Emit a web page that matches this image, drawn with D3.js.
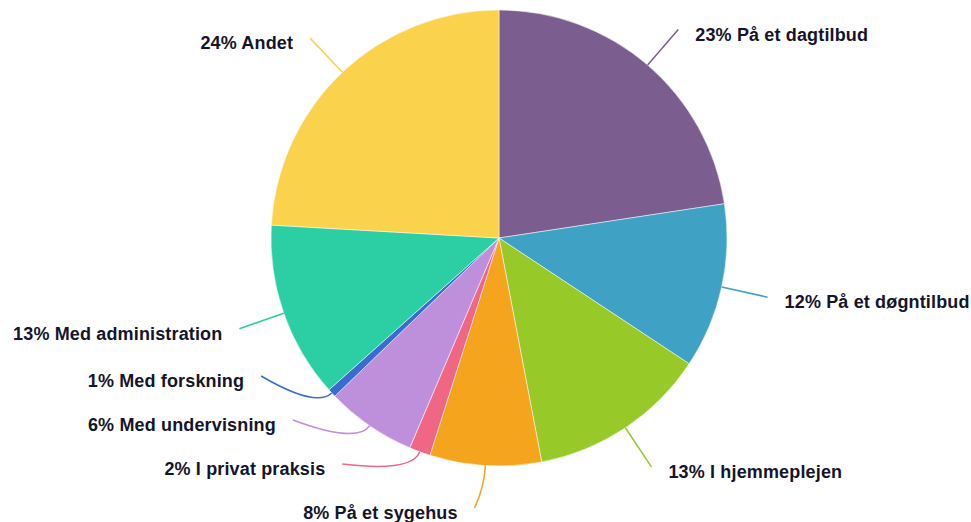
<!DOCTYPE html>
<html>
<head>
<meta charset="utf-8">
<script src="https://cdn.jsdelivr.net/npm/d3@7"></script>
<style>
  html, body { margin: 0; padding: 0; background: #fff; }
  text { font-family: "Liberation Sans", Arial, sans-serif; font-weight: bold; }
</style>
</head>
<body>
<svg id="chart" width="971" height="522"></svg>
<script>
// data (share of respondents, %)
const categories = [
  "På et dagtilbud", "På et døgntilbud", "I hjemmeplejen", "På et sygehus",
  "I privat praksis", "Med undervisning", "Med forskning", "Med administration", "Andet"
];
const values = [22.6, 11.7, 12.7, 7.9, 1.5, 6.4, 0.6, 12.5, 24.1];
const colors = [
  "#7b5e8f", "#3fa1c3", "#97c928", "#f4a51d",
  "#ef6784", "#be8fda", "#3a6bd1", "#2ccfa4", "#fad24b"
];

const data = categories.map((c, i) => ({ label: c, value: values[i], color: colors[i] }));

const width = 971, height = 522;
const cx = 499, cy = 238;
const radius = 228;
const labelRadius = 275;
const gap = 44;

const svg = d3.select("#chart");
const g = svg.append("g").attr("transform", "translate(" + cx + "," + cy + ")");

const pie = d3.pie().value(d => d.value).sort(null);
const arc = d3.arc().innerRadius(0).outerRadius(radius);

const arcs = pie(data);

g.selectAll("path.slice")
  .data(arcs)
  .enter()
  .append("path")
  .attr("class", "slice")
  .attr("d", arc)
  .attr("fill", d => d.data.color)
  .attr("stroke", "#fff")
  .attr("stroke-width", 0.5);

// label placement: start on a bigger circle, then push apart on each side
const items = arcs.map(d => {
  const a = (d.startAngle + d.endAngle) / 2;
  return { d: d, a: a, side: a < Math.PI ? 1 : -1, y: -labelRadius * Math.cos(a), x: labelRadius * Math.sin(a) };
});

function spread(list, down) {
  let prev = down ? -Infinity : Infinity;
  list.forEach(o => {
    let y = o.y;
    if (down) {
      y = Math.max(y, prev + gap);
    } else {
      y = Math.min(y, labelRadius - 5, prev - gap);
    }
    if (Math.abs(y - o.y) > 6) {
      const dx = Math.sqrt(Math.max(0, labelRadius * labelRadius - y * y));
      o.x = o.side * dx;
    } else if (Math.abs(o.x) < 30) {
      // bottom label: bend the line a little to the side
      o.x = o.x + o.side * 8;
    }
    o.y = y;
    prev = y;
  });
}

spread(items.filter(o => o.side > 0).sort((p, q) => p.y - q.y), true);
spread(items.filter(o => o.side < 0).sort((p, q) => q.y - p.y), false);

const labels = g.selectAll("g.label")
  .data(items)
  .enter()
  .append("g")
  .attr("class", "label");

labels.append("path")
  .attr("fill", "none")
  .attr("stroke", o => o.d.data.color)
  .attr("stroke-width", 1.5)
  .attr("d", o => {
    const p0 = [radius * Math.sin(o.a), -radius * Math.cos(o.a)];
    const c = [(radius + 22) * Math.sin(o.a), -(radius + 22) * Math.cos(o.a)];
    return "M" + p0 + "Q" + c + " " + [o.x, o.y];
  });

labels.append("text")
  .attr("x", o => o.x + o.side * 17)
  .attr("y", o => o.y + 5)
  .attr("dy", "0.35em")
  .attr("text-anchor", o => o.side > 0 ? "start" : "end")
  .attr("fill", "#15152a")
  .style("font-size", "18px")
  .style("letter-spacing", "0.15px")
  .text(o => Math.round(o.d.data.value) + "% " + o.d.data.label);
</script>
</body>
</html>
